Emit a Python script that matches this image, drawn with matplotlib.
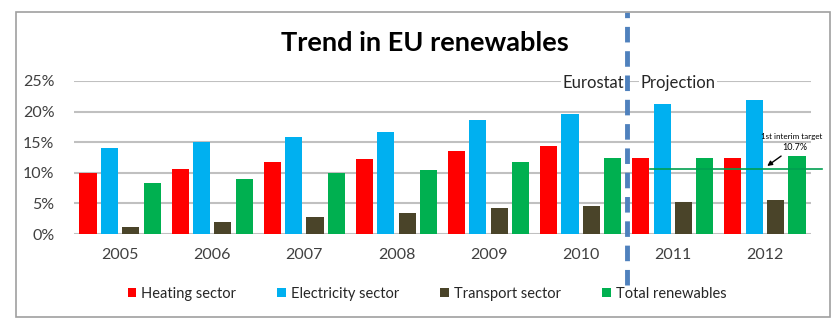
import numpy as np
import matplotlib.pyplot as plt
from matplotlib.patches import Rectangle
from matplotlib.ticker import FuncFormatter

plt.rcParams['font.family'] = ['Lato', 'DejaVu Sans']

years = ['2005', '2006', '2007', '2008', '2009', '2010', '2011', '2012']
heating = [10.0, 10.6, 11.7, 12.2, 13.6, 14.3, 12.4, 12.5]
electricity = [14.0, 15.1, 15.9, 16.6, 18.7, 19.6, 21.2, 21.9]
transport = [1.1, 1.9, 2.8, 3.5, 4.3, 4.6, 5.3, 5.6]
total = [8.3, 9.0, 10.0, 10.5, 11.7, 12.5, 12.5, 12.8]
target = 10.7

series = [
    ('Heating sector', heating, '#FF0000'),
    ('Electricity sector', electricity, '#00B0F0'),
    ('Transport sector', transport, '#4A4429'),
    ('Total renewables', total, '#00B050'),
]

fig = plt.figure(figsize=(8.4, 3.23), dpi=100)
ax = fig.add_axes([74/840, 1 - 234/323, (811 - 74)/840, (234 - 81)/323])

x = np.arange(len(years))
step = 0.232
width = 0.185
for i, (name, vals, col) in enumerate(series):
    ax.bar(x + (i - 1.5) * step, vals, width, color=col, label=name, zorder=3)

ax.set_xlim(-0.5, len(years) - 0.5)
ax.set_ylim(0, 25)
ax.set_yticks(range(0, 26, 5))
ax.yaxis.set_major_formatter(FuncFormatter(lambda v, p: f'{v:.0f}%'))
ax.set_xticks(x)
ax.set_xticklabels(years)
ax.tick_params(length=0, labelsize=11.5, labelcolor='#404040')
ax.tick_params(axis='y', pad=14)
ax.tick_params(axis='x', pad=10)
ax.grid(axis='y', color='#C0C0C0', linewidth=1.5, zorder=0)
for s in ax.spines.values():
    s.set_visible(False)

# target line with its note
ax.plot([5.75, 7.62], [target, target], color='#00A050', linewidth=1.2,
        zorder=4, clip_on=False)
ax.annotate('', xy=(7.0, target + 0.15), xytext=(7.2, 13.0),
            arrowprops=dict(arrowstyle='-|>', color='black', lw=1.0,
                            mutation_scale=7), zorder=5)
ax.text(6.96, 16.0, '1st interim target', fontsize=5.8, ha='left',
        va='center', zorder=6, clip_on=False)
ax.text(7.19, 14.1, f'{target}%', fontsize=6.5, ha='left', va='center', zorder=6)

# split between reported and projected years
ax.axvline(5.5, ymin=-0.333, ymax=1.451, color='#4F81BD', linewidth=3.5,
           linestyle=(0, (3.2, 1.8)), clip_on=False, zorder=7)
ax.text(5.47, 24.7, 'Eurostat', fontsize=12, ha='right', va='center',
        color='#262626', zorder=6, bbox=dict(facecolor='white', edgecolor='none', pad=1))
ax.text(5.65, 24.7, 'Projection', fontsize=12, ha='left', va='center',
        color='#262626', zorder=6, bbox=dict(facecolor='white', edgecolor='none', pad=1))

fig.text(425/840, 1 - 43/323, 'Trend in EU renewables', fontsize=19.5,
         fontweight='bold', ha='center', va='center', color='black')

ax.legend(loc='center', bbox_to_anchor=(0.479, (234 - 294)/153), ncol=4,
          frameon=False, fontsize=10.5, handlelength=0.6, handleheight=0.6,
          handletextpad=0.35, columnspacing=2.8, labelcolor='#262626')

fig.patches.append(Rectangle((16/840, 1 - 317/323), (830 - 16)/840, (317 - 12)/323,
                             transform=fig.transFigure, fill=False,
                             edgecolor='#A0A0A0', linewidth=1.2))

fig.savefig('out.png', dpi=100)
